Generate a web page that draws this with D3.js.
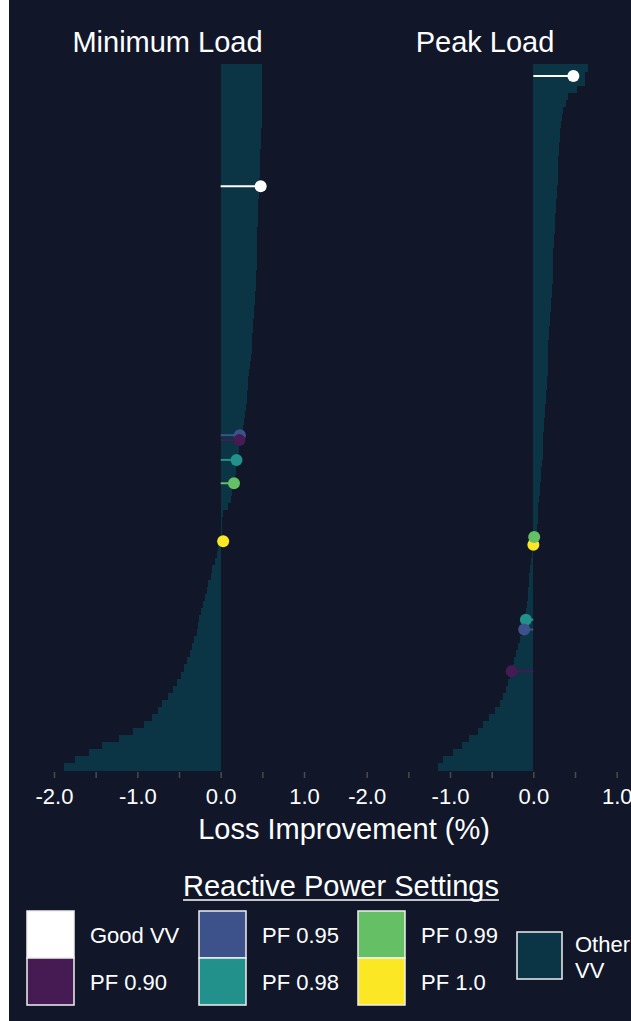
<!DOCTYPE html>
<html>
<head>
<meta charset="utf-8">
<script src="https://cdn.jsdelivr.net/npm/d3@7"></script>
<style>
  html, body { margin: 0; padding: 0; background: #ffffff; }
  svg { display: block; }
  text { font-family: "Liberation Sans", Arial, sans-serif; fill: #ffffff; }
</style>
</head>
<body>
<svg id="chart" width="631" height="1021"></svg>
<script>
// Sorted loss improvement (%) of every other volt-var curve, top to bottom
const minLoadOther = [
  0.50, 0.50, 0.50, 0.50, 0.49, 0.49, 0.49, 0.49, 0.49, 0.48,
  0.48, 0.48, 0.47, 0.47, 0.47, 0.47, 0.46, 0.46, 0.46, 0.45,
  0.45, 0.45, 0.45, 0.44, 0.44, 0.44, 0.44, 0.43, 0.43, 0.42,
  0.42, 0.42, 0.41, 0.41, 0.40, 0.40, 0.39, 0.39, 0.38, 0.37,
  0.37, 0.36, 0.35, 0.34, 0.33, 0.33, 0.32, 0.31, 0.30, 0.29,
  0.28, 0.27, 0.25, 0.23, 0.22, 0.21, 0.19, 0.18, 0.17, 0.16,
  0.14, 0.12, 0.09, 0.03, 0.02, 0.02, 0.01, 0.005, -0.03, -0.05,
  -0.07, -0.10, -0.12, -0.15, -0.17, -0.19, -0.21, -0.24, -0.26, -0.27,
  -0.29, -0.32, -0.34, -0.37, -0.41, -0.44, -0.48, -0.53, -0.57, -0.63,
  -0.70, -0.75, -0.83, -0.92, -1.05, -1.22, -1.42, -1.58, -1.75, -1.88
];
const peakLoadOther = [
  0.65, 0.62, 0.62, 0.52, 0.42, 0.39, 0.36, 0.34, 0.33, 0.32,
  0.32, 0.31, 0.31, 0.30, 0.30, 0.29, 0.29, 0.28, 0.28, 0.27,
  0.27, 0.26, 0.26, 0.26, 0.25, 0.25, 0.24, 0.24, 0.23, 0.23,
  0.23, 0.22, 0.22, 0.21, 0.21, 0.20, 0.20, 0.19, 0.19, 0.18,
  0.18, 0.17, 0.17, 0.17, 0.16, 0.16, 0.15, 0.15, 0.14, 0.14,
  0.13, 0.13, 0.12, 0.12, 0.11, 0.11, 0.10, 0.09, 0.09, 0.08,
  0.08, 0.07, 0.06, 0.05, 0.05, 0.04, 0.02, 0.01, -0.01, -0.02,
  -0.03, -0.04, -0.05, -0.05, -0.06, -0.07, -0.08, -0.09, -0.10, -0.12,
  -0.14, -0.16, -0.19, -0.21, -0.23, -0.25, -0.28, -0.30, -0.33, -0.36,
  -0.40, -0.46, -0.53, -0.60, -0.67, -0.77, -0.86, -0.96, -1.08, -1.15
];

// Reactive power settings, their improvement and their place in the sorted list
const settings = ["Good VV", "PF 0.90", "PF 0.95", "PF 0.98", "PF 0.99", "PF 1.0"];
const settingColors = ["#ffffff", "#461a52", "#3d528a", "#22908b", "#64bf65", "#fbe723"];
const minLoadSetting = [0.48, 0.225, 0.23, 0.19, 0.16, 0.03];
const minLoadRank = [17.3, 53.2, 52.5, 56.0, 59.3, 67.5];
const peakLoadSetting = [0.48, -0.26, -0.11, -0.09, 0.01, 0.0];
const peakLoadRank = [1.7, 85.9, 80.0, 78.6, 66.9, 68.0];

const panelTitles = ["Minimum Load", "Peak Load"];
const tickValues = [-2, -1.5, -1, -0.5, 0, 0.5, 1];
const otherLabel = ["Other", "VV"];

const BG = "#111729";
const OTHER = "#0b3444";

const svg = d3.select("#chart");
svg.append("rect").attr("x", 9).attr("y", 0).attr("width", 622).attr("height", 1021).attr("fill", BG);

const y = d3.scaleLinear().domain([0, minLoadOther.length]).range([64, 771]);

const panels = [
  { title: panelTitles[0], other: minLoadOther, vals: minLoadSetting, ranks: minLoadRank,
    x: d3.scaleLinear().domain([-2, 1]).range([54, 304]), titleX: 167.5 },
  { title: panelTitles[1], other: peakLoadOther, vals: peakLoadSetting, ranks: peakLoadRank,
    x: d3.scaleLinear().domain([-2, 1]).range([366.7, 616.7]), titleX: 485 }
];

panels.forEach(p => {
  const g = svg.append("g");
  const x = p.x;

  // bars of the other volt-var curves
  g.append("g").attr("shape-rendering", "crispEdges")
    .selectAll("rect").data(p.other).join("rect")
    .attr("x", d => x(Math.min(0, d)))
    .attr("width", d => Math.abs(x(d) - x(0)))
    .attr("y", (d, i) => Math.floor(y(i)))
    .attr("height", (d, i) => Math.ceil(y(i + 1)) - Math.floor(y(i)))
    .attr("fill", OTHER);

  // settings drawn back to front so the lower power factors sit on top
  const order = d3.range(settings.length).reverse().filter(i => i !== 0).concat([0]);
  const mg = g.append("g");
  order.forEach(i => {
    const cy = y(p.ranks[i]);
    mg.append("line")
      .attr("x1", x(0)).attr("x2", x(p.vals[i]))
      .attr("y1", cy).attr("y2", cy)
      .attr("stroke", settingColors[i]).attr("stroke-width", 2);
    mg.append("circle")
      .attr("cx", x(p.vals[i])).attr("cy", cy).attr("r", 6)
      .attr("fill", settingColors[i]);
  });

  // axis
  const axis = d3.axisBottom(x)
    .tickValues(tickValues)
    .tickSize(6)
    .tickPadding(10)
    .tickFormat(v => Number.isInteger(v) ? v.toFixed(1) : "");
  const ag = g.append("g").attr("transform", "translate(0,772)").call(axis);
  ag.select(".domain").remove();
  ag.selectAll(".tick line").attr("stroke", "#4b4b4b").attr("stroke-width", 1.5);
  ag.selectAll(".tick text")
    .attr("fill", "#ffffff")
    .style("font-family", "'Liberation Sans', Arial, sans-serif")
    .style("font-size", "22px");

  g.append("text")
    .attr("x", p.titleX).attr("y", 52)
    .attr("text-anchor", "middle")
    .style("font-size", "29px")
    .text(p.title);
});

svg.append("text")
  .attr("x", 344).attr("y", 839)
  .attr("text-anchor", "middle")
  .style("font-size", "29px")
  .text("Loss Improvement (%)");

// legend
const lt = svg.append("text")
  .attr("x", 341).attr("y", 896)
  .attr("text-anchor", "middle")
  .style("font-size", "29px")
  .text("Reactive Power Settings");
const bb = lt.node().getBBox();
svg.append("line")
  .attr("x1", bb.x).attr("x2", bb.x + bb.width)
  .attr("y1", 900).attr("y2", 900)
  .attr("stroke", "#ffffff").attr("stroke-width", 1.5);

const colX = [27, 199, 358];
const rowY = [911, 958];
const leg = svg.append("g");
settings.forEach((s, i) => {
  const c = Math.floor(i / 2), r = i % 2;
  leg.append("rect")
    .attr("x", colX[c]).attr("y", rowY[r])
    .attr("width", 47).attr("height", 47)
    .attr("fill", settingColors[i])
    .attr("stroke", "#f0f0f0").attr("stroke-width", 1.5);
  leg.append("text")
    .attr("x", colX[c] + 63).attr("y", rowY[r] + 32)
    .style("font-size", "22px")
    .text(s);
});
leg.append("rect")
  .attr("x", 517).attr("y", 932)
  .attr("width", 45).attr("height", 47)
  .attr("fill", OTHER)
  .attr("stroke", "#f0f0f0").attr("stroke-width", 1.5);
otherLabel.forEach((t, i) => {
  leg.append("text")
    .attr("x", 575).attr("y", 952 + i * 26)
    .style("font-size", "22px")
    .text(t);
});
</script>
</body>
</html>
